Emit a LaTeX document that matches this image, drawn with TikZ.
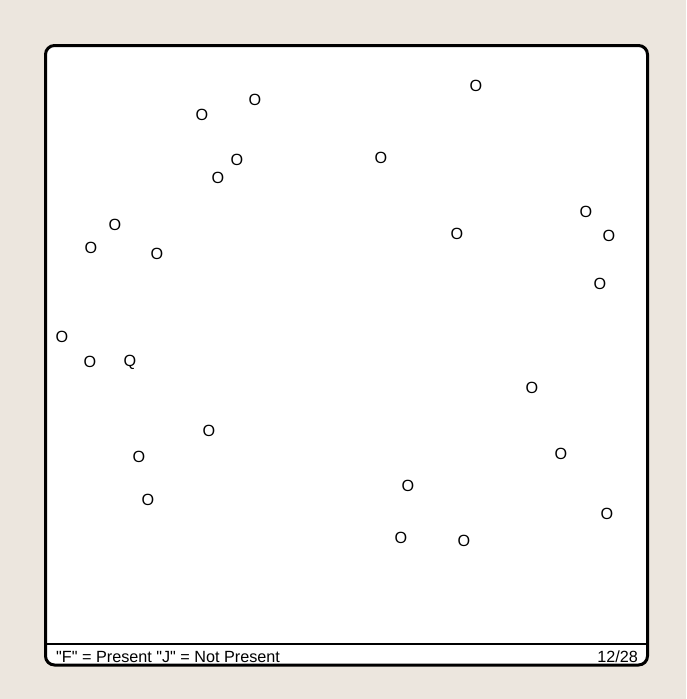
\documentclass[tikz,border=0pt]{standalone}
\usepackage{fontspec}
\setmainfont{Liberation Sans}
\usetikzlibrary{positioning}
\definecolor{paper}{RGB}{236,230,222}
\begin{document}
\begin{tikzpicture}[x=1pt,y=-1pt,font=\fontsize{16.2pt}{18pt}\selectfont]
\tikzstyle{letter}=[inner sep=0pt,text height=11.6pt,text depth=0pt]
\tikzstyle{footer}=[inner sep=0pt,anchor=base west]
%
\fill[paper] (0,0) rectangle (686,699);
\useasboundingbox (0,0) rectangle (686,699);
\draw[fill=white,line width=3pt,rounded corners=9pt] (45.5,45.5) rectangle (647.5,665);
\draw[line width=2.5pt] (45.5,644) -- (647.5,644);
%
\node[letter] (o01) at (202,115) {O};
  \node[letter] (o02) at (255,100) {O};
  \node[letter] (o03) at (237,160) {O};
  \node[letter] (o04) at (218,178) {O};
  \node[letter] (o05) at (476,86) {O};
  \node[letter] (o06) at (381,158) {O};
  \node[letter] (o07) at (115,225) {O};
  \node[letter] (o08) at (91,248) {O};
  \node[letter] (o09) at (157,254) {O};
  \node[letter] (o10) at (457,234) {O};
  \node[letter] (o11) at (586,212) {O};
  \node[letter] (o12) at (609,236) {O};
  \node[letter] (o13) at (600,284) {O};
  \node[letter] (o14) at (62,337) {O};
  \node[letter] (o15) at (90,362) {O};
  \node[letter] (q16) at (130,361) {Q};
  \node[letter] (o17) at (532,388) {O};
  \node[letter] (o18) at (209,431) {O};
  \node[letter] (o19) at (139,457) {O};
  \node[letter] (o20) at (561,454) {O};
  \node[letter] (o21) at (148,500) {O};
  \node[letter] (o22) at (408,486) {O};
  \node[letter] (o23) at (607,514) {O};
  \node[letter] (o24) at (401,538) {O};
  \node[letter] (o25) at (464,541) {O};
%
\node[footer] (key) at (56,662.5) {\textquotedbl F\textquotedbl{} = Present \textquotedbl J\textquotedbl{} = Not Present};
  \node[footer,anchor=base east] (count) at (638,662.5) {12/28};
\end{tikzpicture}
\end{document}
